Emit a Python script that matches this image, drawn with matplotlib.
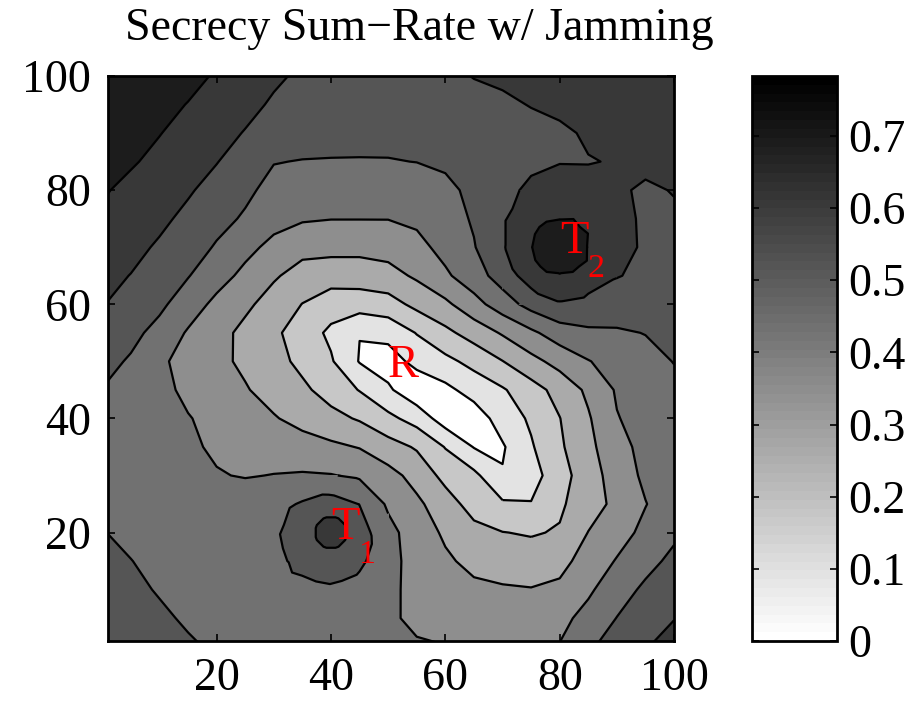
import numpy as np
import matplotlib
matplotlib.use('Agg')
import matplotlib.pyplot as plt
import matplotlib.tri as mtri
from matplotlib.colors import Normalize
from matplotlib.cm import ScalarMappable

plt.rcParams['font.family'] = ['Liberation Serif', 'DejaVu Serif']

# eavesdropper position grid, rows read from the top (y=100) to the bottom (y=0)
grid_x = [0, 5, 10, 15, 20, 25, 30, 35, 40, 45, 50, 55, 60, 65, 70, 75, 80, 85, 90, 95, 100]
grid_y = [100, 95, 90, 85, 80, 75, 70, 65, 60, 55, 50, 45, 40, 35, 30, 25, 20, 15, 10, 5, 0]

# secrecy sum-rate
rate_y100 = [0.783, 0.766, 0.748, 0.722, 0.687, 0.657, 0.622, 0.596, 0.579, 0.570, 0.566, 0.570, 0.583, 0.613, 0.626, 0.635, 0.639, 0.644, 0.648, 0.648, 0.648]
rate_y95 = [0.770, 0.748, 0.722, 0.693, 0.661, 0.631, 0.599, 0.574, 0.561, 0.555, 0.552, 0.555, 0.561, 0.574, 0.592, 0.613, 0.626, 0.635, 0.639, 0.644, 0.644]
rate_y90 = [0.757, 0.731, 0.699, 0.666, 0.635, 0.605, 0.574, 0.557, 0.548, 0.544, 0.541, 0.541, 0.544, 0.552, 0.566, 0.579, 0.596, 0.618, 0.626, 0.631, 0.635]
rate_y85 = [0.735, 0.705, 0.674, 0.644, 0.612, 0.570, 0.525, 0.519, 0.518, 0.518, 0.519, 0.523, 0.535, 0.557, 0.574, 0.592, 0.605, 0.606, 0.613, 0.631, 0.635]
rate_y80 = [0.705, 0.674, 0.644, 0.618, 0.580, 0.539, 0.496, 0.479, 0.478, 0.477, 0.477, 0.487, 0.503, 0.541, 0.584, 0.626, 0.653, 0.635, 0.622, 0.596, 0.613]
rate_y75 = [0.683, 0.657, 0.626, 0.590, 0.548, 0.512, 0.465, 0.444, 0.437, 0.437, 0.437, 0.452, 0.485, 0.531, 0.600, 0.661, 0.694, 0.661, 0.635, 0.596, 0.596]
rate_y70 = [0.657, 0.631, 0.599, 0.561, 0.514, 0.460, 0.411, 0.374, 0.373, 0.372, 0.381, 0.409, 0.463, 0.517, 0.600, 0.693, 0.783, 0.693, 0.641, 0.596, 0.583]
rate_y65 = [0.631, 0.607, 0.566, 0.526, 0.470, 0.413, 0.358, 0.315, 0.301, 0.303, 0.318, 0.361, 0.421, 0.484, 0.560, 0.653, 0.689, 0.653, 0.613, 0.592, 0.579]
rate_y60 = [0.613, 0.574, 0.539, 0.479, 0.413, 0.365, 0.313, 0.259, 0.212, 0.213, 0.226, 0.284, 0.330, 0.404, 0.480, 0.553, 0.600, 0.583, 0.564, 0.557, 0.554]
rate_y55 = [0.579, 0.544, 0.496, 0.426, 0.378, 0.326, 0.278, 0.218, 0.157, 0.089, 0.113, 0.178, 0.240, 0.298, 0.357, 0.418, 0.479, 0.507, 0.513, 0.524, 0.539]
rate_y50 = [0.548, 0.513, 0.448, 0.409, 0.370, 0.331, 0.291, 0.239, 0.183, 0.082, 0.048, 0.113, 0.152, 0.200, 0.259, 0.322, 0.378, 0.431, 0.470, 0.500, 0.524]
rate_y45 = [0.520, 0.487, 0.457, 0.418, 0.385, 0.355, 0.313, 0.278, 0.226, 0.170, 0.100, 0.026, 0.065, 0.122, 0.165, 0.226, 0.291, 0.365, 0.444, 0.483, 0.505]
rate_y40 = [0.492, 0.479, 0.461, 0.439, 0.413, 0.383, 0.355, 0.318, 0.287, 0.252, 0.196, 0.139, 0.044, 0.039, 0.126, 0.187, 0.259, 0.339, 0.431, 0.465, 0.479]
rate_y35 = [0.474, 0.465, 0.457, 0.445, 0.426, 0.413, 0.402, 0.387, 0.365, 0.344, 0.296, 0.252, 0.170, 0.083, 0.078, 0.165, 0.248, 0.326, 0.405, 0.461, 0.470]
rate_y30 = [0.474, 0.470, 0.461, 0.452, 0.439, 0.431, 0.437, 0.442, 0.439, 0.422, 0.378, 0.318, 0.235, 0.196, 0.093, 0.139, 0.226, 0.309, 0.387, 0.452, 0.470]
rate_y25 = [0.496, 0.479, 0.465, 0.461, 0.465, 0.474, 0.492, 0.531, 0.556, 0.520, 0.422, 0.365, 0.300, 0.226, 0.187, 0.178, 0.248, 0.309, 0.370, 0.432, 0.483]
rate_y20 = [0.526, 0.500, 0.483, 0.474, 0.474, 0.487, 0.509, 0.570, 0.670, 0.560, 0.461, 0.392, 0.335, 0.287, 0.263, 0.254, 0.268, 0.350, 0.400, 0.457, 0.505]
rate_y15 = [0.557, 0.524, 0.496, 0.479, 0.474, 0.479, 0.496, 0.551, 0.581, 0.539, 0.465, 0.400, 0.361, 0.326, 0.309, 0.300, 0.322, 0.383, 0.441, 0.493, 0.544]
rate_y10 = [0.566, 0.539, 0.516, 0.492, 0.479, 0.474, 0.479, 0.496, 0.509, 0.492, 0.452, 0.413, 0.387, 0.365, 0.357, 0.352, 0.365, 0.422, 0.482, 0.539, 0.577]
rate_y5 = [0.579, 0.561, 0.535, 0.512, 0.487, 0.479, 0.474, 0.474, 0.474, 0.465, 0.445, 0.422, 0.402, 0.392, 0.387, 0.392, 0.413, 0.461, 0.524, 0.574, 0.607]
rate_y0 = [0.592, 0.574, 0.552, 0.532, 0.512, 0.492, 0.479, 0.470, 0.465, 0.461, 0.452, 0.442, 0.437, 0.422, 0.413, 0.418, 0.439, 0.509, 0.561, 0.605, 0.635]

rate_rows = [rate_y100, rate_y95, rate_y90, rate_y85, rate_y80, rate_y75, rate_y70,
             rate_y65, rate_y60, rate_y55, rate_y50, rate_y45, rate_y40, rate_y35,
             rate_y30, rate_y25, rate_y20, rate_y15, rate_y10, rate_y5, rate_y0]

# extra readings on the rings round the two transmitters
t1_x = [41.5, 41.1, 40.0, 38.9, 38.5, 38.9, 40.0, 41.1,
        43.7, 41.5, 38.5, 36.3, 36.3, 38.5, 41.5, 43.7,
        46.0, 44.1, 39.5, 34.9, 33.0, 34.9, 39.5, 44.1]
t1_y = [20.0, 21.1, 21.5, 21.1, 20.0, 18.9, 18.5, 18.9,
        21.5, 23.7, 23.7, 21.5, 18.5, 16.3, 16.3, 18.5,
        19.2, 23.8, 25.7, 23.8, 19.2, 14.6, 12.7, 14.6]
t1_rate = [0.635, 0.635, 0.635, 0.635, 0.635, 0.635, 0.635, 0.635,
           0.586, 0.586, 0.586, 0.586, 0.586, 0.586, 0.586, 0.586,
           0.545, 0.545, 0.545, 0.545, 0.545, 0.545, 0.545, 0.545]
t1_box = (30, 50, 10, 30)
t2_x = [82.5, 81.8, 80.0, 78.2, 77.5, 78.2, 80.0, 81.8,
        86.5, 82.7, 77.3, 73.5, 73.5, 77.3, 82.7, 86.5]
t2_y = [70.0, 71.8, 72.5, 71.8, 70.0, 68.2, 67.5, 68.2,
        72.7, 76.5, 76.5, 72.7, 67.3, 63.5, 63.5, 67.3]
t2_rate = [0.738, 0.738, 0.738, 0.738, 0.738, 0.738, 0.738, 0.738,
           0.675, 0.675, 0.664, 0.660, 0.658, 0.660, 0.660, 0.671]
t2_box = (70, 90, 60, 80)

levels = [0, 0.087, 0.174, 0.261, 0.348, 0.435, 0.522, 0.609, 0.696]
rate_max = 0.783
cbar_ticks = [0, 0.1, 0.2, 0.3, 0.4, 0.5, 0.6, 0.7]
cbar_labels = ['0', '0.1', '0.2', '0.3', '0.4', '0.5', '0.6', '0.7']
ticks = [20, 40, 60, 80, 100]

node_names = ['T', 'T', 'R']
node_subs = ['1', '2', '']
node_x = [40, 80, 50]
node_y = [20, 70, 50]

fs = 33
line_w = 1.6

fig = plt.figure(figsize=(9.24, 7.03), dpi=100)
ax = fig.add_axes([0.1169, 0.0882, 0.6126, 0.8037])

gx = np.array(grid_x)
gy = np.array(grid_y)[::-1]
z = np.array(rate_rows)[::-1]

cmap = plt.cm.gray_r
fill_colors = [cmap(lv / rate_max) for lv in levels]
fill_levels = levels + [0.8]
ax.contourf(gx, gy, z, levels=fill_levels, colors=fill_colors)
ax.contour(gx, gy, z, levels=levels[1:], colors='k', linewidths=line_w)

# finer patches round T1 and T2 so the rings come out round
gxx, gyy = np.meshgrid(gx, gy)
for rx, ry, rz, box in [(t1_x, t1_y, t1_rate, t1_box), (t2_x, t2_y, t2_rate, t2_box)]:
    x0, x1, y0, y1 = box
    inside = (gxx >= x0) & (gxx <= x1) & (gyy >= y0) & (gyy <= y1)
    px = np.concatenate([gxx[inside], rx])
    py = np.concatenate([gyy[inside], ry])
    pz = np.concatenate([z[inside], rz])
    tri = mtri.Triangulation(px, py)
    ax.tricontourf(tri, pz, levels=fill_levels, colors=fill_colors, zorder=2)
    ax.tricontour(tri, pz, levels=levels[1:], colors='k', linewidths=line_w, zorder=3)

for name, sub, x, y in zip(node_names, node_subs, node_x, node_y):
    if sub:
        ax.annotate(name, (x, y), xytext=(0, -6), textcoords='offset pixels',
                    color='red', fontsize=33.5, ha='left', va='baseline', zorder=5)
        ax.annotate(sub, (x, y), xytext=(28, -30), textcoords='offset pixels',
                    color='red', fontsize=24.5, ha='left', va='baseline', zorder=5)
    else:
        ax.annotate(name, (x, y), xytext=(0, -16), textcoords='offset pixels',
                    color='red', fontsize=33.5, ha='left', va='baseline', zorder=5)

ax.set_xlim(1, 100)
ax.set_ylim(1, 100)
ax.set_xticks(ticks)
ax.set_yticks(ticks)
ax.tick_params(direction='in', top=True, right=True, length=5, width=1.2,
               labelsize=fs, pad=12)
for sp in ax.spines.values():
    sp.set_linewidth(2)
    sp.set_zorder(6)

fig.text(0.4535, 0.943, 'Secrecy Sum\u2212Rate w/ Jamming', ha='center',
         va='baseline', fontsize=fs)

cax = fig.add_axes([0.8139, 0.0882, 0.092, 0.8037])
sm = ScalarMappable(norm=Normalize(0, rate_max), cmap=cmap.resampled(64))
cb = fig.colorbar(sm, cax=cax, ticks=cbar_ticks)
cb.ax.set_yticklabels(cbar_labels)
cb.ax.tick_params(direction='in', left=True, right=True, length=5, width=1.2,
                  labelsize=fs, pad=8)
cb.outline.set_linewidth(2)

plt.savefig('out.png', dpi=100)
